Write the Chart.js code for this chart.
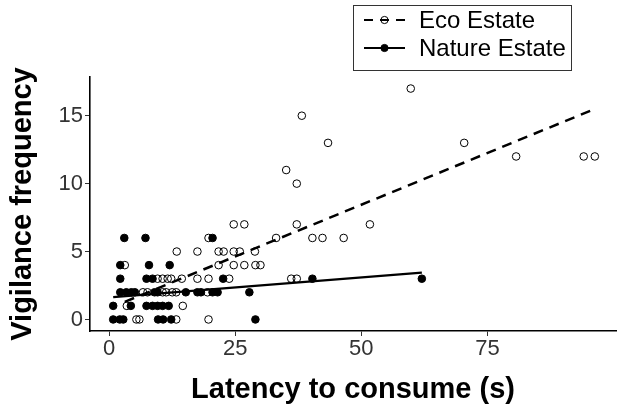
<!DOCTYPE html>
<html>
<head>
<meta charset="utf-8">
<script src="https://cdn.jsdelivr.net/npm/chart.js@4/dist/chart.umd.min.js"></script>
<style>
  html, body { margin: 0; padding: 0; background: #fff; }
  #wrap { width: 621px; height: 408px; position: relative; }
</style>
</head>
<body>
<div id="wrap"><canvas id="c" width="621" height="408"></canvas></div>
<script>
// Latency to consume (s) vs vigilance frequency, two estates
const seriesNames = ['Eco Estate', 'Nature Estate'];

// Eco Estate observations (open circles)
const ecoX = [59.8, 38.2, 43.4, 70.4, 80.7, 94.1, 96.3, 35.1, 37.2,
  24.7, 26.8, 37.2, 51.7,
  19.7, 33.1, 40.3, 42.3, 46.5,
  13.4, 17.5, 21.7, 22.7, 24.7, 25.9, 28.9,
  3.1, 21.7, 24.7, 26.8, 29.0, 30.0,
  9.6, 10.6, 11.6, 12.3, 14.4, 17.5, 19.7, 23.8, 36.1, 37.2,
  6.7, 7.6, 10.6, 11.3, 12.5, 13.3, 19.5,
  3.5, 14.6,
  5.4, 6.0, 13.3, 19.7];
const ecoY = [17, 15, 13, 13, 12, 12, 12, 11, 10,
  7, 7, 7, 7,
  6, 6, 6, 6, 6,
  5, 5, 5, 5, 5, 5, 5,
  4, 4, 4, 4, 4, 4,
  3, 3, 3, 3, 3, 3, 3, 3, 3, 3,
  2, 2, 2, 2, 2, 2, 2,
  1, 1,
  0, 0, 0, 0];

// Nature Estate observations (filled circles)
const natureX = [3.0, 7.2, 20.5,
  2.2, 7.9, 12.0,
  2.2, 7.4, 8.6, 22.6, 40.3, 62.0,
  2.2, 3.4, 4.4, 5.1, 9.0, 9.6, 15.2, 17.5, 18.2, 20.5, 21.5, 27.8,
  0.8, 4.3, 7.4, 8.6, 9.6, 10.6, 11.8,
  0.8, 2.1, 2.8, 9.7, 10.7, 12.3, 29.0];
const natureY = [6, 6, 6,
  4, 4, 4,
  3, 3, 3, 3, 3, 3,
  2, 2, 2, 2, 2, 2, 2, 2, 2, 2, 2, 2,
  1, 1, 1, 1, 1, 1, 1,
  0, 0, 0, 0, 0, 0, 0];

// Fitted trend lines (end points)
const ecoFitX = [3.1, 96.3];
const ecoFitY = [1.3, 15.5];
const natureFitX = [0.8, 62.0];
const natureFitY = [1.65, 3.45];

// Axis tick labels
const xTicks = [0, 25, 50, 75];
const yTicks = [0, 5, 10, 15];

const pts = (xs, ys) => xs.map((x, i) => ({ x: x, y: ys[i] }));

const FONT = "'Liberation Sans', Arial, Helvetica, sans-serif";

// Legend with line + point keys, drawn inside a framed box at top right
const legendBox = {
  id: 'legendBox',
  afterDraw(chart) {
    const ctx = chart.ctx;
    ctx.save();
    ctx.strokeStyle = '#333';
    ctx.lineWidth = 1;
    ctx.strokeRect(353.5, 5.5, 218, 65);
    const rows = [
      { label: seriesNames[0], y: 20, dash: [9, 7], fill: false, lw: 2 },
      { label: seriesNames[1], y: 48, dash: [], fill: true, lw: 2.2 }
    ];
    rows.forEach(r => {
      ctx.beginPath();
      ctx.setLineDash(r.dash);
      ctx.lineWidth = r.lw;
      ctx.strokeStyle = '#000';
      ctx.moveTo(364, r.y);
      ctx.lineTo(405, r.y);
      ctx.stroke();
      ctx.setLineDash([]);
      ctx.beginPath();
      ctx.arc(384.5, r.y, 3.6, 0, Math.PI * 2);
      ctx.lineWidth = 1;
      if (r.fill) { ctx.fillStyle = '#000'; ctx.fill(); }
      ctx.stroke();
      ctx.fillStyle = '#000';
      ctx.font = '24px ' + FONT;
      ctx.textBaseline = 'middle';
      ctx.textAlign = 'left';
      ctx.fillText(r.label, 419, r.y + 1);
    });
    ctx.restore();
  }
};

new Chart(document.getElementById('c'), {
  type: 'scatter',
  data: {
    datasets: [
      {
        label: seriesNames[0],
        data: pts(ecoX, ecoY),
        pointStyle: 'circle',
        pointRadius: 3.8,
        pointBorderWidth: 1,
        pointBorderColor: '#000',
        pointBackgroundColor: 'rgba(0,0,0,0)',
        showLine: false
      },
      {
        label: seriesNames[1],
        data: pts(natureX, natureY),
        pointStyle: 'circle',
        pointRadius: 3.8,
        pointBorderWidth: 1,
        pointBorderColor: '#000',
        pointBackgroundColor: '#000',
        showLine: false
      },
      {
        label: seriesNames[0] + ' fit',
        data: pts(ecoFitX, ecoFitY),
        showLine: true,
        borderColor: '#000',
        borderWidth: 2.5,
        borderDash: [10, 7],
        pointRadius: 0,
        fill: false
      },
      {
        label: seriesNames[1] + ' fit',
        data: pts(natureFitX, natureFitY),
        showLine: true,
        borderColor: '#000',
        borderWidth: 2.2,
        pointRadius: 0,
        fill: false
      }
    ]
  },
  options: {
    responsive: false,
    animation: false,
    layout: { padding: { top: 77, right: 1, left: 0, bottom: 0 } },
    plugins: {
      legend: { display: false },
      tooltip: { enabled: false }
    },
    scales: {
      x: {
        type: 'linear',
        min: -3.8,
        max: 100.5,
        afterBuildTicks: s => { s.ticks = xTicks.map(v => ({ value: v })); },
        afterFit: s => { s.height = 77; },
        grid: { drawOnChartArea: false, drawTicks: true, tickLength: 5, color: '#333', lineWidth: 1 },
        border: { display: true, color: '#000', width: 1.6 },
        ticks: { color: '#333', font: { family: FONT, size: 22 }, padding: 0, maxRotation: 0 },
        title: {
          display: true,
          text: 'Latency to consume (s)',
          color: '#000',
          font: { family: FONT, size: 29, weight: 'bold' },
          padding: { top: 0, bottom: 1 }
        }
      },
      y: {
        type: 'linear',
        min: -0.85,
        max: 17.85,
        afterBuildTicks: s => { s.ticks = yTicks.map(v => ({ value: v })); },
        afterFit: s => { s.width = 90; },
        grid: { drawOnChartArea: false, drawTicks: true, tickLength: 5, color: '#333', lineWidth: 1 },
        border: { display: true, color: '#000', width: 1.6 },
        ticks: { color: '#333', font: { family: FONT, size: 22 }, padding: 2 },
        title: {
          display: true,
          text: 'Vigilance frequency',
          color: '#000',
          font: { family: FONT, size: 29, weight: 'bold' },
          padding: { top: 6, bottom: 0 }
        }
      }
    }
  },
  plugins: [legendBox]
});
</script>
</body>
</html>
